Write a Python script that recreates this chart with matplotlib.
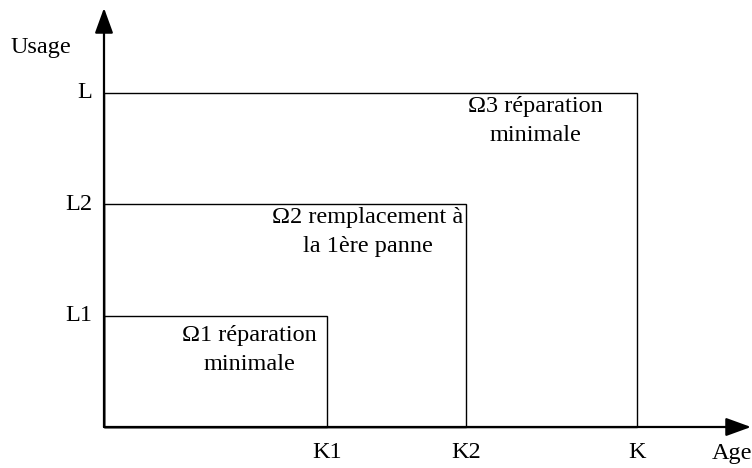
import matplotlib.pyplot as plt
from matplotlib.patches import Rectangle

plt.rcParams['font.family'] = ['Liberation Serif', 'DejaVu Serif']

# data (arbitrary units: K thresholds on age axis, L thresholds on usage axis)
k_labels = ['K1', 'K2', 'K']
k_values = [2.0, 3.25, 4.78]
l_labels = ['L1', 'L2', 'L']
l_values = [1.0, 2.0, 3.0]
region_texts = ['Ω1 réparation\nminimale',
                'Ω2 remplacement à\nla 1ère panne',
                'Ω3 réparation\nminimale']

W, H = 752, 468
unit = 111.5
ox, oy = 104, 427  # origin pixel (from top-left)

fig = plt.figure(figsize=(W / 100, H / 100), dpi=100)
ax = fig.add_axes([0, 0, 1, 1])
ax.set_xlim(-ox / unit, (W - ox) / unit)
ax.set_ylim(-(H - oy) / unit, oy / unit)
ax.axis('off')

fs = 17.5
# axes with arrows
xmax = (W - 1 - ox) / unit
ymax = (oy - 8) / unit
astyle = '-|>,head_length=1.1,head_width=0.4'
ax.annotate('', xy=(xmax, 0), xytext=(0, 0),
            arrowprops=dict(arrowstyle=astyle, color='black', lw=1.6,
                            shrinkA=0, shrinkB=0, mutation_scale=14))
ax.annotate('', xy=(0, ymax), xytext=(0, 0),
            arrowprops=dict(arrowstyle=astyle, color='black', lw=1.6,
                            shrinkA=0, shrinkB=0, mutation_scale=14))

# rectangles
for k, l in zip(k_values, l_values):
    ax.add_patch(Rectangle((0, 0), k, l, fill=False, edgecolor='black', lw=1.0))

# tick labels
for k, lab in zip(k_values, k_labels):
    ax.text(k, -(453 - oy) / unit, lab, ha='center', va='center', fontsize=fs)
for l, lab in zip(l_values, l_labels):
    ax.text((92 - ox) / unit, l, lab, ha='right', va='center', fontsize=fs)

ax.text((712 - ox) / unit, -(453 - oy) / unit, 'Age', ha='left', va='center', fontsize=fs)
ax.text((11 - ox) / unit, (oy - 47) / unit, 'Usage', ha='left', va='center', fontsize=fs)

# region texts
text_pos_px = [(249, 350), (368, 232), (535, 121)]
for (px, py), t in zip(text_pos_px, region_texts):
    ax.text((px - ox) / unit, (oy - py) / unit, t, ha='center', va='center',
            fontsize=fs, linespacing=1.45)

fig.savefig('out.png', dpi=100)
